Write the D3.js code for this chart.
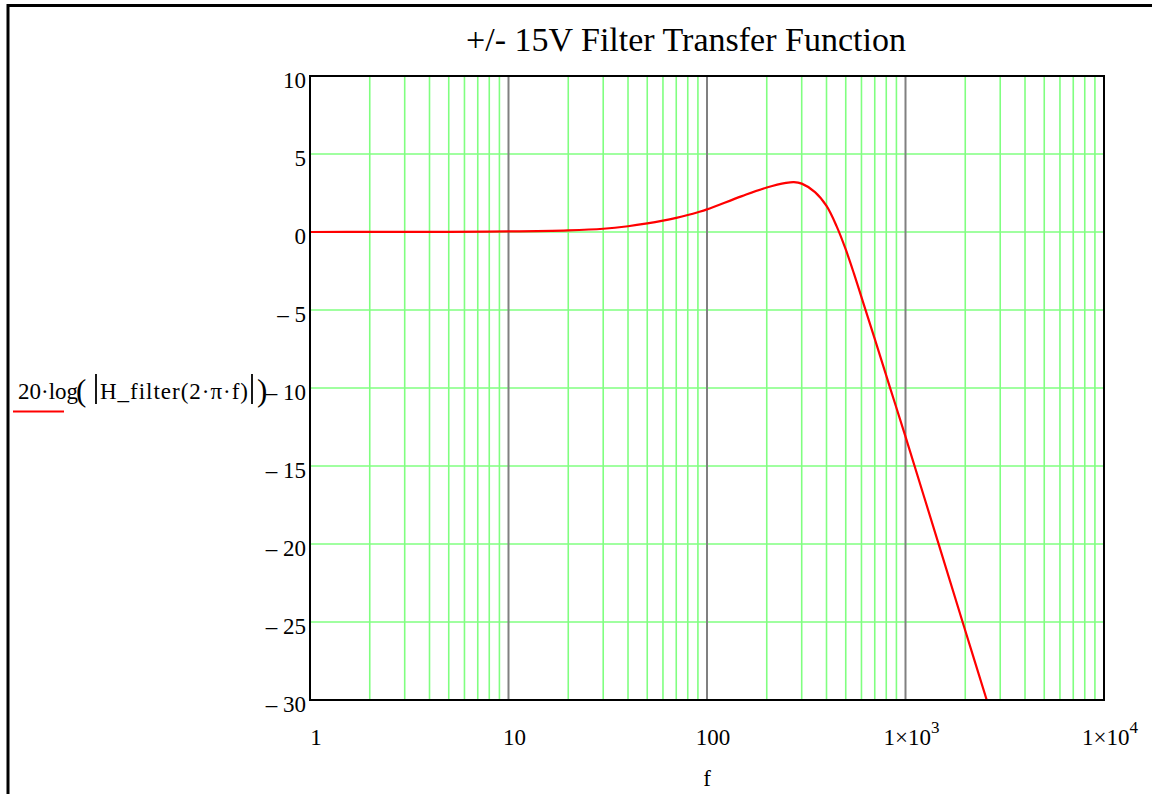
<!DOCTYPE html>
<html>
<head>
<meta charset="utf-8">
<script src="https://cdn.jsdelivr.net/npm/d3@7"></script>
<style>
  html, body { margin: 0; padding: 0; background: #fff; }
  svg { display: block; font-family: "Liberation Serif", "Times New Roman", serif; }
</style>
</head>
<body>
<svg id="chart" width="1152" height="794"></svg>
<script>
// ---- data ----
const freq = [1, 2, 5, 10, 20, 30, 40, 50, 60, 70, 80, 90, 100, 150, 200, 250, 274, 300, 350, 400, 450, 500, 550, 606, 700, 834, 1000, 1456, 1971, 2566];
const gainDb = [0.0, 0.005, 0.01, 0.04, 0.11, 0.21, 0.37, 0.55, 0.73, 0.91, 1.09, 1.27, 1.45, 2.3, 2.85, 3.15, 3.2, 3.1, 2.56, 1.67, 0.36, -1.12, -2.67, -4.35, -6.85, -9.94, -13.12, -19.85, -25.29, -30.0];
const yTicks = [10, 5, 0, -5, -10, -15, -20, -25, -30];
const yTickLabels = ["10", "5", "0", "\u2013 5", "\u2013 10", "\u2013 15", "\u2013 20", "\u2013 25", "\u2013 30"];
const xTicks = [1, 10, 100, 1000, 10000];
const xTickMantissa = ["1", "10", "100", "1\u00d710", "1\u00d710"];
const xTickExponent = ["", "", "", "3", "4"];
const titleText = "+/- 15V Filter Transfer Function";
const xLabel = "f";

// ---- layout ----
const pL = 310, pR = 1104, pT = 76, pB = 700;
const svg = d3.select("#chart");

const x = d3.scaleLog().domain([1, 10000]).range([pL, pR]);
const y = d3.scaleLinear().domain([-30, 10]).range([pB, pT]);

// outer frame (right/bottom edges off-canvas)
svg.append("rect").attr("x", 8).attr("y", 5.5).attr("width", 1300).attr("height", 1000)
  .attr("fill", "none").attr("stroke", "#000").attr("stroke-width", 3);

// grid: minor vertical lines
const minor = [];
for (let d = 1; d < 10000; d *= 10) for (let k = 2; k <= 9; k++) minor.push(d * k);
const g = svg.append("g");
g.selectAll("line.minor").data(minor).enter().append("line")
  .attr("x1", d => x(d)).attr("x2", d => x(d)).attr("y1", pT).attr("y2", pB)
  .attr("stroke", "#80ff80").attr("stroke-width", 1.6);
// horizontal grid
g.selectAll("line.h").data(yTicks.filter(v => v > -30 && v < 10)).enter().append("line")
  .attr("x1", pL).attr("x2", pR).attr("y1", d => y(d)).attr("y2", d => y(d))
  .attr("stroke", "#80ff80").attr("stroke-width", 1.6);
// decade lines
g.selectAll("line.dec").data([10, 100, 1000]).enter().append("line")
  .attr("x1", d => x(d)).attr("x2", d => x(d)).attr("y1", pT).attr("y2", pB)
  .attr("stroke", "#808080").attr("stroke-width", 2);

// clip
svg.append("clipPath").attr("id", "clip").append("rect")
  .attr("x", pL).attr("y", pT).attr("width", pR - pL).attr("height", pB - pT);

const pts = freq.map((f, i) => [f, gainDb[i]]);
const line = d3.line().x(d => x(d[0])).y(d => y(d[1])).curve(d3.curveCatmullRom.alpha(0.5));
svg.append("path").attr("d", line(pts)).attr("clip-path", "url(#clip)")
  .attr("fill", "none").attr("stroke", "#ff0000").attr("stroke-width", 2.2);

// plot border
svg.append("rect").attr("x", pL).attr("y", pT).attr("width", pR - pL).attr("height", pB - pT)
  .attr("fill", "none").attr("stroke", "#000").attr("stroke-width", 2);

// y tick labels
svg.selectAll("text.yt").data(yTicks).enter().append("text")
  .attr("x", 306).attr("y", d => y(d) + 11.5)
  .attr("text-anchor", "end").attr("font-size", 23).attr("fill", "#000")
  .text((d, i) => yTickLabels[i]);

// x tick labels
const xt = svg.selectAll("text.xt").data(xTicks).enter().append("text")
  .attr("x", d => x(d) + 6).attr("y", 745)
  .attr("text-anchor", "middle").attr("font-size", 23).attr("fill", "#000");
xt.append("tspan").text((d, i) => xTickMantissa[i]);
xt.append("tspan").attr("dy", -12).attr("font-size", 17).text((d, i) => xTickExponent[i]);

// title
svg.append("text").attr("x", 686).attr("y", 51).attr("text-anchor", "middle")
  .attr("font-size", 34).attr("fill", "#000").text(titleText);

// x label
svg.append("text").attr("x", 707).attr("y", 786).attr("text-anchor", "middle")
  .attr("font-size", 23).attr("fill", "#000").text(xLabel);

// y label (Mathcad-style expression)
const yl = svg.append("g").attr("fill", "#000");
yl.append("text").attr("x", 18).attr("y", 399).attr("font-size", 23).text("20\u00b7log");
yl.append("text").attr("x", 76).attr("y", 401).attr("font-size", 31).text("(");
yl.append("line").attr("x1", 96).attr("x2", 96).attr("y1", 374).attr("y2", 404).attr("stroke", "#000").attr("stroke-width", 1.8);
yl.append("text").attr("x", 100).attr("y", 399).attr("font-size", 23)
  .attr("textLength", 148).attr("lengthAdjust", "spacing").text("H_filter(2\u00b7\u03c0\u00b7f)");
yl.append("line").attr("x1", 252).attr("x2", 252).attr("y1", 374).attr("y2", 404).attr("stroke", "#000").attr("stroke-width", 1.8);
yl.append("text").attr("x", 257).attr("y", 401).attr("font-size", 31).text(")");
// legend sample line
svg.append("line").attr("x1", 13).attr("x2", 64).attr("y1", 411.5).attr("y2", 411.5)
  .attr("stroke", "#ff0000").attr("stroke-width", 2);
</script>
</body>
</html>
